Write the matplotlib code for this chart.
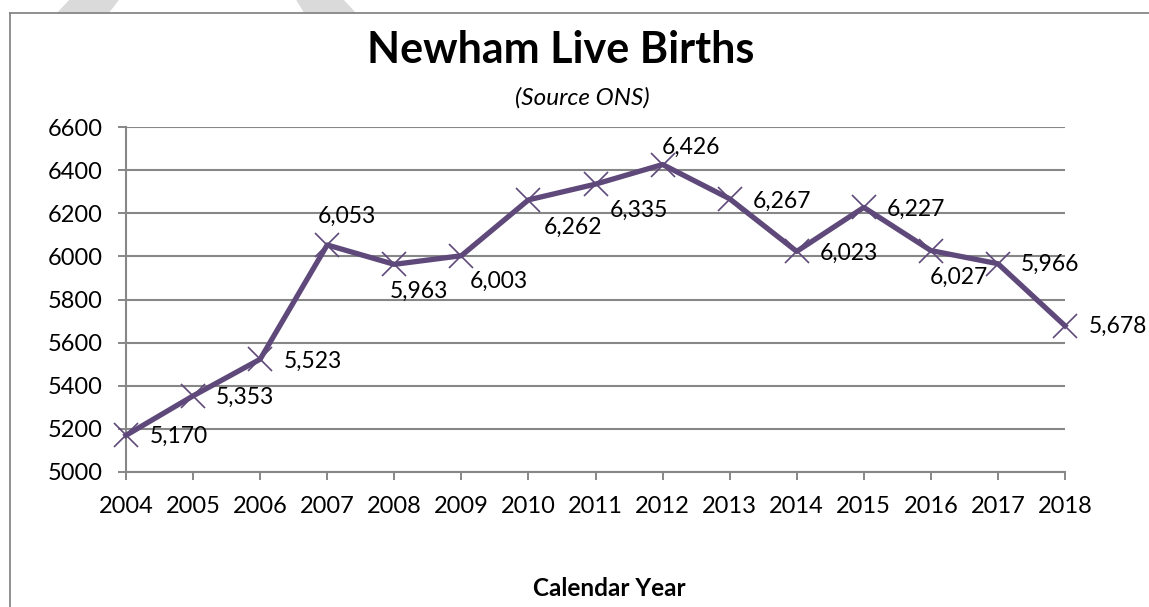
import matplotlib
matplotlib.use("Agg")
import matplotlib.pyplot as plt
from matplotlib.patches import Polygon
from matplotlib.lines import Line2D

years = [2004, 2005, 2006, 2007, 2008, 2009, 2010, 2011, 2012, 2013, 2014, 2015, 2016, 2017, 2018]
births = [5170, 5353, 5523, 6053, 5963, 6003, 6262, 6335, 6426, 6267, 6023, 6227, 6027, 5966, 5678]
y_ticks = [5000, 5200, 5400, 5600, 5800, 6000, 6200, 6400, 6600]

# label placement (pixel offsets from each point, +y = down)
label_offsets = [(53, 1), (52, 1), (53, 2), (20, -29), (25, 27), (37, 26), (45, 27),
                 (43, 26), (28, -17), (52, 3), (52, 2), (52, 2), (28, 27), (52, 1), (53, 1)]

W, H = 1149, 607
purple = "#5F497A"
grey = "#878787"
plt.rcParams['font.family'] = ['Lato', 'DejaVu Sans']

fig = plt.figure(figsize=(W / 100, H / 100), dpi=100)

def fx(px):
    return px / W

def fy(py):
    return 1 - py / H

# watermark stripes peeking above the chart frame
fig.patches.append(Polygon([(fx(58), fy(13)), (fx(108), fy(13)), (fx(118), fy(0)), (fx(70), fy(0))],
                           closed=True, transform=fig.transFigure, color="#dadada", zorder=0))
fig.patches.append(Polygon([(fx(297), fy(0)), (fx(343), fy(0)), (fx(355), fy(13)), (fx(305), fy(13))],
                           closed=True, transform=fig.transFigure, color="#dadada", zorder=0))

# chart frame (left and top only visible)
fig.add_artist(Line2D([fx(10), fx(10)], [fy(13), fy(607)], color=grey, lw=1.3, transform=fig.transFigure))
fig.add_artist(Line2D([fx(10), fx(1149)], [fy(13), fy(13)], color=grey, lw=1.3, transform=fig.transFigure))

ax = fig.add_axes([fx(126), fy(472), fx(1065) - fx(126), fy(127) - fy(472)])
ax.plot(years, births, color=purple, lw=3.8, marker='x', markersize=17,
        markeredgewidth=1.2, markeredgecolor=purple, zorder=3, clip_on=False)

for x, v, (dx, dy) in zip(years, births, label_offsets):
    ax.annotate(f"{v:,}", (x, v), xytext=(dx, -dy), textcoords='offset pixels',
                ha='center', va='center', fontsize=16.5, color='black', zorder=4)

ax.set_xlim(years[0], years[-1])
ax.set_ylim(y_ticks[0], y_ticks[-1])
ax.set_xticks(years)
ax.set_yticks(y_ticks)
ax.tick_params(axis='both', labelsize=17, color=grey, length=6, width=1.4, pad=11)
ax.grid(axis='y', color=grey, lw=1.5)
ax.set_axisbelow(True)
for s in ['top', 'right']:
    ax.spines[s].set_visible(False)
for s in ['left', 'bottom']:
    ax.spines[s].set_color(grey)
    ax.spines[s].set_linewidth(1.5)

fig.text(fx(561), fy(50), "Newham Live Births", ha='center', va='center',
         fontsize=31, fontweight='bold')
fig.text(fx(582), fy(98), "(Source ONS)", ha='center', va='center',
         fontsize=17.5, fontstyle='italic')
fig.text(fx(609), fy(589), "Calendar Year", ha='center', va='center',
         fontsize=17.5, fontweight='bold')

fig.savefig("out.png", dpi=100)
